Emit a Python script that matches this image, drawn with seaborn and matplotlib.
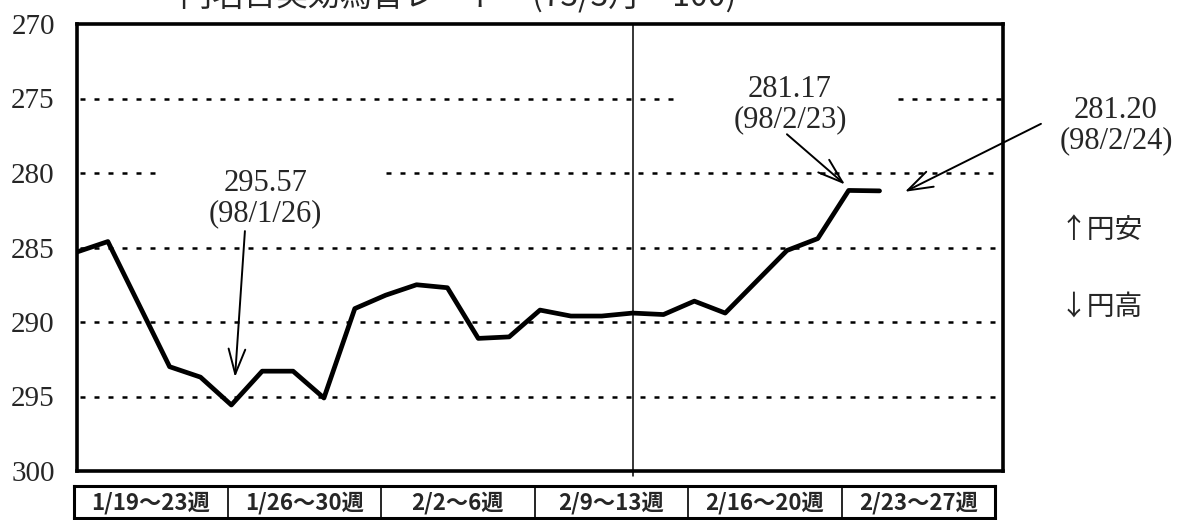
import numpy as np
import pandas as pd
import seaborn as sns
import matplotlib.pyplot as plt

# daily yen nominal effective rate index, 1/19 .. 2/24 (business days)
day_index = list(range(27))
rate = [285.3, 284.6, 288.8, 293.0, 293.7, 295.57, 293.3, 293.3, 295.1, 289.1,
        288.2, 287.5, 287.7, 291.1, 291.0, 289.2, 289.6, 289.6, 289.4, 289.5,
        288.6, 289.4, 287.3, 285.2, 284.4, 281.17, 281.20]
week_labels = ["1/19～23週", "1/26～30週", "2/2～6週", "2/9～13週", "2/16～20週", "2/23～27週"]
y_ticks = [270, 275, 280, 285, 290, 295, 300]
title = "円名目実効為替レート　(73/3月 = 100)"

sns.set_style("white")
plt.rcParams['font.family'] = ['Noto Sans CJK JP', 'DejaVu Sans']
serif = ['Liberation Serif', 'DejaVu Serif']

fig = plt.figure(figsize=(11.93, 5.20), dpi=100)
ax = fig.add_axes([77/1193, 49/520, 926/1193, 447/520])

df = pd.DataFrame({"day": day_index, "rate": rate})
sns.lineplot(data=df, x="day", y="rate", color="black", lw=3.4, ax=ax)

ax.set_xlim(0, 30)
ax.set_ylim(300, 270)
ax.set_yticks(y_ticks)
ax.set_yticklabels([str(t) for t in y_ticks], family=serif, fontsize=21)
ax.set_xticks([])
ax.set_xlabel("")
ax.set_ylabel("")
ax.tick_params(axis="y", length=0, pad=16)
for s in ax.spines.values():
    s.set_visible(True)
    s.set_color("black")
    s.set_linewidth(2.6)

# dotted grid (broken where the labels sit)
grid_kw = dict(color="black", lw=1.8, linestyle=(0, (2, 3.6)), zorder=1)
for g in [285, 290, 295]:
    ax.hlines(g, 0.1, 30, **grid_kw)
ax.hlines(275, 0.1, 19.6, **grid_kw)
ax.hlines(275, 26.6, 30, **grid_kw)
ax.hlines(280, 0.1, 2.7, **grid_kw)
ax.hlines(280, 10.0, 30, **grid_kw)

ax.axvline(18, ymin=-0.012, ymax=1, color="black", lw=1.1, clip_on=False)

arrow = dict(arrowstyle="->,head_length=0.9,head_width=0.3", mutation_scale=20,
             color="black", lw=1.4, shrinkA=0, shrinkB=0)
txt = dict(family=serif, fontsize=22, ha="center", va="center", linespacing=1.05)

ax.text(6.1, 281.7, "295.57\n(98/1/26)", **txt)
ax.annotate("", xy=(5.12, 293.7), xytext=(5.44, 283.9), arrowprops=arrow)

ax.text(23.1, 275.4, "281.17\n(98/2/23)", **txt)
ax.annotate("", xy=(24.88, 280.77), xytext=(23.0, 277.4), arrowprops=arrow)

ax.text(33.66, 276.8, "281.20\n(98/2/24)", clip_on=False, **txt)
ax.annotate("", xy=(26.82, 281.26), xytext=(31.23, 276.7), arrowprops=arrow,
            annotation_clip=False)

fig.text(1060/1193, 1 - 230/520, "↑円安", fontsize=20, va="center")
fig.text(1060/1193, 1 - 307/520, "↓円高", fontsize=20, va="center")

# title cut off at the top edge of the scan
fig.text(180/1193, 1 - 5/520, title, fontsize=23, va="baseline")

# week table under the chart
tab = fig.add_axes([74/1193, 2/520, 921/1193, 32/520])
tab.set_xlim(0, len(week_labels))
tab.set_ylim(0, 1)
tab.set_xticks([])
tab.set_yticks([])
for s in tab.spines.values():
    s.set_visible(True)
    s.set_color("black")
    s.set_linewidth(2.2)
for i in range(1, len(week_labels)):
    tab.axvline(i, color="black", lw=1.2)
for i, w in enumerate(week_labels):
    tab.text(i + 0.5, 0.47, w, ha="center", va="center", fontsize=16, fontweight="bold")

fig.savefig("out.png", dpi=100)
